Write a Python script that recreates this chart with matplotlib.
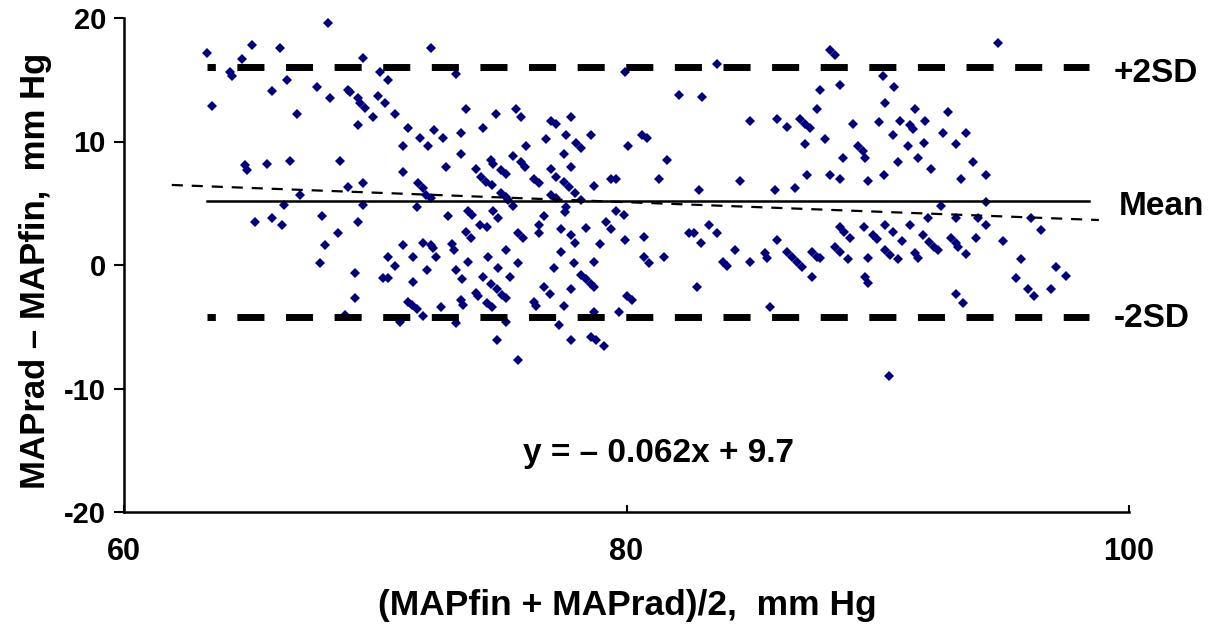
import numpy as np
import matplotlib.pyplot as plt

plt.rcParams['font.family'] = ['Liberation Sans', 'DejaVu Sans']
plt.rcParams['font.weight'] = 'bold'
plt.rcParams['axes.unicode_minus'] = False

# Bland-Altman points: mean of the two methods (x) and their difference (y)
# left part of the cloud (~63-71 mm Hg)
avg_left = [63.3, 65.1, 64.7, 66.2, 68.1, 64.2, 64.3, 69.5, 63.5, 66.5,
            65.9, 67.7, 68.2, 66.9, 70.2, 70.5, 68.9, 69.0, 69.3, 69.4,
            69.6, 70.1, 70.4, 69.9, 70.8, 69.3, 64.8, 64.9, 65.7, 66.6,
            68.6, 67.0, 68.9, 69.5,
            66.35, 69.5, 65.2, 65.9, 66.3, 67.9, 69.3, 68.5, 68.0, 67.8,
            69.2, 69.2, 68.8, 70.5, 70.8, 70.3, 70.5]
diff_left = [17.2, 17.8, 16.7, 17.6, 19.6, 15.65, 15.3, 16.8, 12.9, 15.0,
             14.1, 14.4, 13.5, 12.2, 15.6, 15.0, 14.2, 14.0, 13.5, 13.1,
             12.7, 13.7, 13.1, 12.0, 12.2, 11.3, 8.1, 7.7, 8.15, 8.45,
             8.45, 5.7, 6.3, 6.6,
             4.86, 4.86, 3.45, 3.78, 3.24, 3.97, 3.45, 2.56, 1.62, 0.13,
             -0.62, -2.7, -4.05, 0.62, -0.08, -1.03, -1.03]

# dense centre (~71-80 mm Hg)
avg_mid = [72.2, 73.2, 79.96, 73.6, 74.8, 75.6, 75.8, 77.0, 77.2, 77.8,
           71.3, 71.8, 72.1, 72.35, 72.7, 73.4, 74.3, 71.1, 73.4, 71.1,
           72.8, 76.0, 76.8, 77.6, 78.0, 78.2, 78.6, 77.5, 75.5, 75.8,
           75.95, 74.6, 74.7, 75.0, 75.2, 74.0, 77.0, 77.8, 76.3, 76.5,
           77.2, 77.5, 77.7, 74.2, 74.4, 74.65, 71.7, 71.9, 78.7, 79.4,
           79.6, 80.05,
           72.0, 72.2, 75.0, 75.2, 75.3, 75.5, 77.0, 77.2, 77.97, 78.2,
           71.66, 72.9, 73.7, 73.85, 74.7, 74.9, 74.15, 74.45, 73.6, 73.8,
           71.1, 71.9, 72.2, 72.3, 73.05, 73.15, 71.5, 72.4, 73.7, 74.5,
           75.2, 75.7, 75.9, 76.5, 76.5, 76.7, 77.4, 77.6, 77.55, 77.8,
           77.97, 78.4, 78.96, 79.2, 79.4, 79.6, 79.9, 79.96, 77.4, 77.9,
           78.7, 77.1, 75.7, 74.9, 75.35, 74.3, 74.6, 73.2, 73.45, 72.05,
           71.5, 74.85, 75.05, 75.2, 74.0, 74.1, 74.45, 74.65, 73.4, 73.5,
           72.6, 71.3, 71.45, 71.66, 71.9, 71.0, 73.2, 75.2, 76.7, 76.97,
           77.8, 77.5, 76.3, 76.4, 78.2, 78.4, 78.6, 78.7, 77.3, 78.7,
           79.7, 80.0, 80.2, 74.85, 77.8, 78.6, 78.8, 79.1, 75.7]
diff_mid = [17.6, 15.5, 15.65, 12.6, 12.2, 12.6, 12.0, 11.7, 11.4, 12.0,
            11.1, 10.3, 9.6, 10.9, 10.3, 10.7, 11.1, 9.6, 9.0, 7.5,
            7.96, 9.6, 10.2, 10.5, 9.85, 9.5, 10.5, 9.0, 8.8, 8.3,
            7.96, 8.5, 8.2, 7.7, 7.4, 7.75, 7.75, 7.96, 7.0, 6.6,
            7.15, 6.7, 6.3, 7.15, 6.7, 6.5, 6.6, 6.2, 6.4, 6.96,
            6.96, 9.6,
            5.7, 5.4, 5.8, 5.5, 5.26, 4.78, 5.67, 5.4, 5.8, 5.26,
            4.7, 3.97, 4.4, 4.05, 4.4, 3.78, 3.24, 3.1, 2.7, 2.16,
            1.62, 1.8, 1.62, 1.35, 1.7, 1.2, 0.62, 0.62, 0.27, 0.62,
            1.2, 2.6, 2.16, 3.24, 2.6, 3.97, 2.9, 4.7, 4.3, 2.4,
            1.8, 2.97, 1.7, 3.5, 2.9, 4.4, 4.05, 2.02, 1.08, 0.13,
            0.27, -0.27, 0.19, -0.27, -1.0, -1.0, -1.5, -0.4, -1.16, -0.4,
            -1.35, -1.97, -2.43, -2.7, -2.3, -2.5, -3.1, -3.4, -2.83, -3.24,
            -3.4, -2.97, -3.24, -3.6, -4.1, -4.6, -4.7, -4.6, -1.75, -2.35,
            -1.97, -3.3, -2.97, -3.3, -0.8, -1.16, -1.5, -1.75, -4.86, -3.8,
            -3.8, -2.5, -2.83, -6.07, -6.07, -5.8, -6.07, -6.56, -7.7]

# right-centre (~80-90 mm Hg)
avg_right = [83.6, 88.1, 88.3, 82.1, 83.0, 87.7, 88.5, 87.6, 84.9, 86.0,
             86.4, 86.9, 87.1, 87.3, 89.0, 90.05, 80.6, 80.8, 81.6, 87.1,
             87.9, 88.6, 89.2, 89.4, 89.5, 81.3, 82.9, 84.5, 85.9, 86.7,
             87.2, 88.1, 88.5, 89.6,
             80.7, 80.7, 80.9, 81.5, 82.5, 82.7, 82.95, 83.3, 83.6, 84.3,
             83.85, 84.0, 84.9, 82.8, 85.5, 85.6, 86.0, 86.4, 86.6, 86.8,
             87.0, 87.4, 87.6, 87.7, 87.4, 88.3, 88.5, 88.5, 88.65, 88.9,
             88.8, 89.45, 89.8, 89.98, 89.6, 89.5, 89.6, 85.7]
diff_right = [16.3, 17.4, 17.0, 13.8, 13.6, 14.2, 14.6, 12.6, 11.7, 11.8,
              11.15, 11.8, 11.4, 11.1, 11.4, 11.6, 10.5, 10.25, 8.5, 9.8,
              10.2, 8.7, 9.6, 9.2, 8.7, 6.96, 6.07, 6.8, 6.07, 6.26,
              7.3, 7.3, 6.96, 6.8,
              2.3, 0.62, 0.13, 0.62, 2.56, 2.56, 1.75, 3.24, 2.56, 1.2,
              0.27, -0.08, 0.27, -1.75, 0.95, 0.54, 2.02, 1.08, 0.67, 0.27,
              -0.13, 1.08, 0.67, 0.54, -1.0, 1.48, 1.08, 3.1, 2.7, 2.16,
              0.46, 3.1, 2.43, 2.08, 0.6, -1.0, -1.43, -3.43]

# far right (~90-98 mm Hg)
avg_far = [94.8, 90.2, 90.65, 90.3, 91.5, 92.8, 90.9, 91.3, 91.4, 91.9,
           90.6, 92.6, 93.5, 91.2, 91.85, 93.1, 91.6, 90.8, 92.1, 93.8,
           90.25, 93.3, 94.3,
           92.5, 94.3, 92.0, 93.1, 94.0, 94.3, 96.1, 96.5, 90.3, 90.6,
           91.3, 90.98, 91.8, 92.05, 92.25, 92.4, 92.9, 93.1, 93.2, 93.9,
           94.97, 90.3, 90.5, 90.8, 91.5, 91.6, 93.5, 95.7, 97.1, 97.5,
           95.5, 95.97, 96.2, 96.9, 93.1, 93.4, 90.45]
diff_far = [17.95, 15.3, 14.4, 13.1, 12.6, 12.4, 11.66, 11.3, 11.0, 11.66,
            10.5, 10.7, 10.7, 9.6, 9.9, 9.77, 8.7, 8.3, 7.75, 8.3,
            7.3, 7.0, 7.3,
            4.78, 5.13, 3.78, 3.78, 3.78, 3.24, 3.78, 2.83, 3.24, 2.7,
            3.24, 1.97, 2.43, 1.89, 1.48, 1.2, 2.16, 1.75, 1.48, 2.16,
            1.97, 1.2, 0.8, 0.49, 0.95, 0.6, 0.87, 0.46, -0.19, -0.9,
            -1.03, -1.94, -2.5, -1.94, -2.35, -3.1, -9.0]

avg = np.concatenate([avg_left, avg_mid, avg_right, avg_far])
diff = np.concatenate([diff_left, diff_mid, diff_right, diff_far])

# reference lines
mean_diff = 5.15
upper_sd = 16.0
lower_sd = -4.25
lines_x = [63.3, 98.4]
reg_x = [61.9, 98.8]
reg_y = [6.48, 3.64]

fig = plt.figure(figsize=(12.21, 6.34), dpi=100)
ax = fig.add_axes([124 / 1221, 122 / 634, 1005 / 1221, 494 / 634])

ax.plot(avg, diff, linestyle='none', marker='D', markersize=5,
        color='#000080', markeredgewidth=0)

ax.plot(lines_x, [mean_diff, mean_diff], color='black', linewidth=1.8)
ax.plot(lines_x, [upper_sd, upper_sd], color='black', linewidth=5,
        linestyle=(2.7, (3.9, 3.1)), dash_capstyle='butt')
ax.plot(lines_x, [lower_sd, lower_sd], color='black', linewidth=5,
        linestyle=(2.7, (3.9, 3.1)), dash_capstyle='butt')
ax.plot(reg_x, reg_y, color='black', linewidth=1.6,
        linestyle=(0, (5, 4)), dash_capstyle='butt')

ax.set_xlim(60, 100)
ax.set_ylim(-20, 20)
ax.set_xticks([60, 80, 100])
ax.set_yticks([-20, -10, 0, 10, 20])
for s in ['top', 'right']:
    ax.spines[s].set_visible(False)
for s in ['left', 'bottom']:
    ax.spines[s].set_linewidth(1.8)
ax.tick_params(axis='y', direction='out', length=7, width=1.5,
               labelsize=21, pad=6)
ax.tick_params(axis='x', direction='in', length=5, width=1.5,
               labelsize=22, pad=18)

lab = dict(fontsize=24, fontweight='bold', va='baseline', ha='left',
           clip_on=False)
ax.text(99.4, 14.85, '+2SD', **lab)
ax.text(99.6, 4.05, 'Mean', **lab)
ax.text(99.4, -5.0, '-2SD', **lab)

ax.text(75.9, -15.95, 'y = \u2013 0.062x + 9.7', fontsize=24,
        fontweight='bold', ha='left', va='baseline')

fig.text(36 / 1221, 1 - 271 / 634, 'MAPrad \u2013 MAPfin,  mm Hg',
         rotation=90, fontsize=25, fontweight='bold',
         ha='center', va='center')
fig.text(627 / 1221, 1 - 605 / 634, '(MAPfin + MAPrad)/2,  mm Hg',
         fontsize=25.5, fontweight='bold', ha='center', va='center')

fig.savefig('out.png', dpi=100)
